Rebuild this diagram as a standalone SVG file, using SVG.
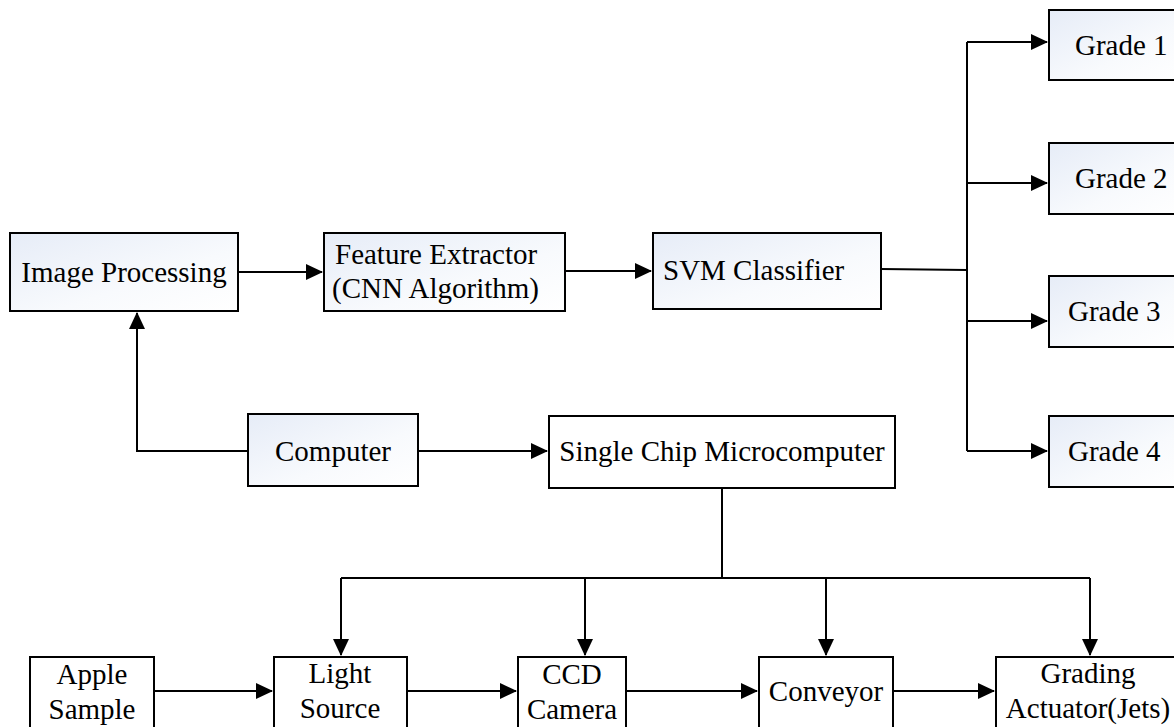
<svg xmlns="http://www.w3.org/2000/svg" width="1174" height="727" viewBox="0 0 1174 727">
<defs>
<linearGradient id="bg" x1="0" y1="0" x2="1" y2="1">
<stop offset="0" stop-color="#e6ecf7"/>
<stop offset="0.6" stop-color="#f8fafd"/>
<stop offset="1" stop-color="#ffffff"/>
</linearGradient>
<marker id="ah" markerUnits="userSpaceOnUse" markerWidth="17" markerHeight="16" refX="16" refY="8" orient="auto">
<path d="M0,0 L17,8 L0,16 Z" fill="#000"/>
</marker>
<style>
.box{fill:url(#bg);stroke:#000;stroke-width:2}
.wbox{fill:#fff;stroke:#000;stroke-width:2}
.t{font-family:'Liberation Serif','Times New Roman',serif;font-size:29px;fill:#000}
.c{text-anchor:middle}
.ln{fill:none;stroke:#000;stroke-width:2}
</style>
</defs>
<rect width="1174" height="727" fill="#fff"/>
<g id="connectors">
<path class="ln" d="M238,272 H322" marker-end="url(#ah)"/>
<path class="ln" d="M565,271 H651" marker-end="url(#ah)"/>
<path class="ln" d="M881,269 L967,270"/>
<path class="ln" d="M967,42 V451"/>
<path class="ln" d="M967,42 H1047" marker-end="url(#ah)"/>
<path class="ln" d="M967,183 H1047" marker-end="url(#ah)"/>
<path class="ln" d="M967,321 H1047" marker-end="url(#ah)"/>
<path class="ln" d="M967,451 H1047" marker-end="url(#ah)"/>
<path class="ln" d="M248,451 H137 V313" marker-end="url(#ah)"/>
<path class="ln" d="M418,451 H547" marker-end="url(#ah)"/>
<path class="ln" d="M722,488 V578"/>
<path class="ln" d="M341,578 H1090"/>
<path class="ln" d="M341,578 V655" marker-end="url(#ah)"/>
<path class="ln" d="M585,578 V655" marker-end="url(#ah)"/>
<path class="ln" d="M826,578 V655" marker-end="url(#ah)"/>
<path class="ln" d="M1090,578 V655" marker-end="url(#ah)"/>
<path class="ln" d="M154,691 H272" marker-end="url(#ah)"/>
<path class="ln" d="M407,691 H516" marker-end="url(#ah)"/>
<path class="ln" d="M626,691 H757" marker-end="url(#ah)"/>
<path class="ln" d="M893,691 H994" marker-end="url(#ah)"/>
</g>
<g id="image-processing"><rect class="box" x="10" y="233" width="228" height="78"/><text class="t c" x="124" y="282">Image Processing</text></g>
<g id="feature-extractor"><rect class="box" x="324" y="233" width="241" height="78"/><text class="t" x="335" y="264">Feature Extractor</text><text class="t" x="332" y="298">(CNN Algorithm)</text></g>
<g id="svm-classifier"><rect class="box" x="653" y="233" width="228" height="76"/><text class="t" x="663" y="280">SVM Classifier</text></g>
<g id="grade-1"><rect class="box" x="1049" y="10" width="135" height="70"/><text class="t" x="1075" y="55">Grade 1</text></g>
<g id="grade-2"><rect class="box" x="1049" y="143" width="135" height="71"/><text class="t" x="1075" y="188">Grade 2</text></g>
<g id="grade-3"><rect class="box" x="1049" y="276" width="135" height="71"/><text class="t" x="1068" y="321">Grade 3</text></g>
<g id="grade-4"><rect class="box" x="1049" y="416" width="135" height="71"/><text class="t" x="1068" y="461">Grade 4</text></g>
<g id="computer"><rect class="box" x="248" y="414" width="170" height="72"/><text class="t c" x="333" y="461">Computer</text></g>
<g id="single-chip"><rect class="wbox" x="549" y="416" width="346" height="72"/><text class="t c" x="722" y="461">Single Chip Microcomputer</text></g>
<g id="apple-sample"><rect class="wbox" x="30" y="657" width="124" height="80"/><text class="t c" x="92" y="684">Apple</text><text class="t c" x="92" y="719">Sample</text></g>
<g id="light-source"><rect class="wbox" x="274" y="657" width="133" height="80"/><text class="t c" x="340" y="683">Light</text><text class="t c" x="340" y="718">Source</text></g>
<g id="ccd-camera"><rect class="wbox" x="518" y="657" width="108" height="80"/><text class="t c" x="572" y="684">CCD</text><text class="t c" x="572" y="719">Camera</text></g>
<g id="conveyor"><rect class="wbox" x="759" y="657" width="134" height="80"/><text class="t c" x="826" y="701">Conveyor</text></g>
<g id="grading-actuator"><rect class="wbox" x="996" y="657" width="188" height="80"/><text class="t c" x="1088" y="683">Grading</text><text class="t c" x="1088" y="718">Actuator(Jets)</text></g>
</svg>
